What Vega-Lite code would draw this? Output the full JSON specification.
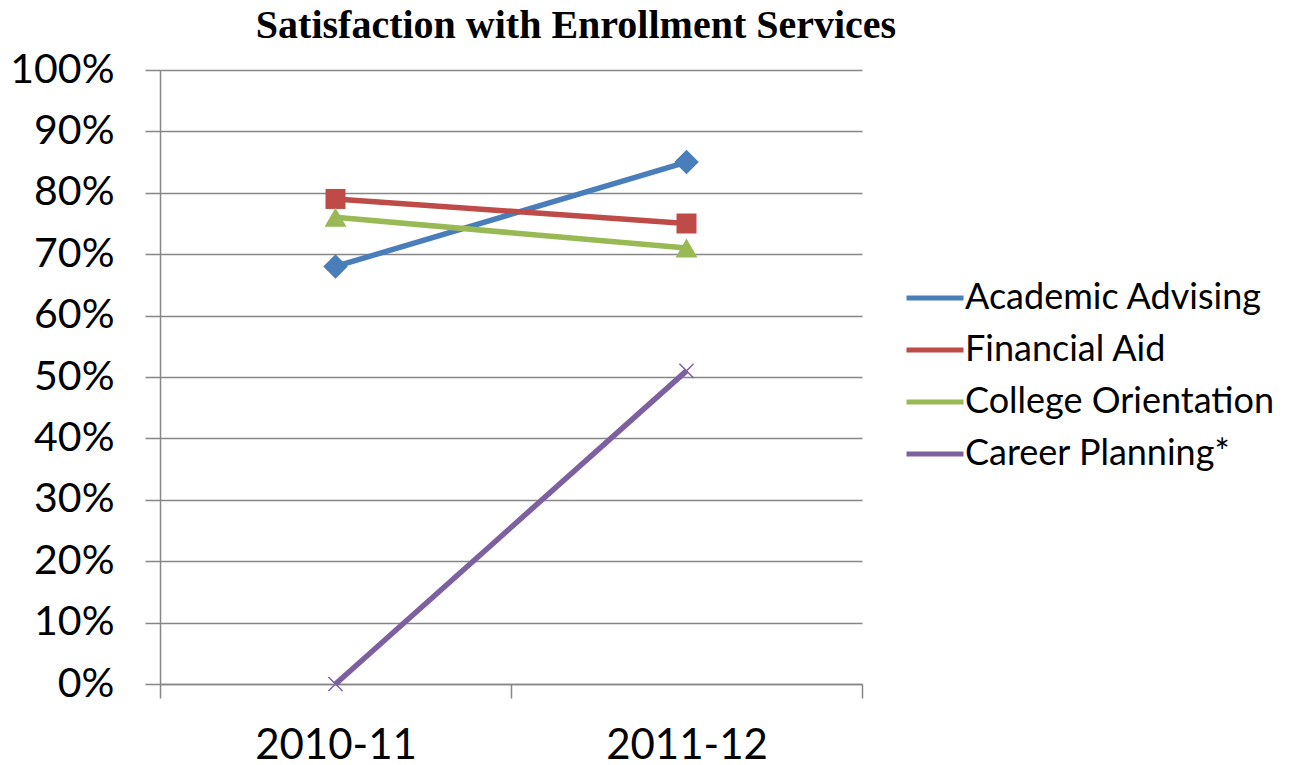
{
  "$schema": "https://vega.github.io/schema/vega-lite/v6.json",
  "autosize": "none",
  "width": 702,
  "height": 614,
  "padding": {"left": 160, "top": 70, "right": 441, "bottom": 81},
  "background": "white",
  "title": {
    "text": "Satisfaction with Enrollment Services",
    "font": "Liberation Serif",
    "fontWeight": "bold",
    "fontSize": 40,
    "color": "black",
    "anchor": "middle",
    "dx": 65,
    "baseline": "alphabetic",
    "offset": -29
  },
  "config": {
    "view": {"stroke": null},
    "axis": {"labelFont": "Lato", "labelColor": "black", "domainColor": "#868686", "tickColor": "#868686", "gridColor": "#868686", "domainWidth": 1.5, "tickWidth": 1.5, "gridWidth": 1.5}
  },
  "data": {
    "values": [
      {"year": "2010-11", "series": "Academic Advising", "value": 0.68},
      {"year": "2011-12", "series": "Academic Advising", "value": 0.85},
      {"year": "2010-11", "series": "Financial Aid", "value": 0.79},
      {"year": "2011-12", "series": "Financial Aid", "value": 0.75},
      {"year": "2010-11", "series": "College Orientation", "value": 0.76},
      {"year": "2011-12", "series": "College Orientation", "value": 0.71},
      {"year": "2010-11", "series": "Career Planning*", "value": 0.0},
      {"year": "2011-12", "series": "Career Planning*", "value": 0.51}
    ]
  },
  "encoding": {
    "x": {
      "field": "year", "type": "ordinal", "bandPosition": 0.5,
      "scale": {"type": "band", "paddingInner": 0, "paddingOuter": 0},
      "axis": {"title": null, "labelAngle": 0, "labelFontSize": 42, "tickBand": "extent", "tickSize": 14, "labelPadding": 27, "grid": false}
    },
    "y": {
      "field": "value", "type": "quantitative",
      "scale": {"domain": [0, 1], "nice": false},
      "axis": {"title": null, "format": ".0%", "values": [0, 0.1, 0.2, 0.3, 0.4, 0.5, 0.6, 0.7, 0.8, 0.9, 1.0], "labelFontSize": 41, "tickSize": 15, "labelPadding": 31, "grid": true}
    },
    "color": {
      "field": "series", "type": "nominal",
      "scale": {"domain": ["Academic Advising", "Financial Aid", "College Orientation", "Career Planning*"], "range": ["#4A7EBB", "#BE4B48", "#98B954", "#7D60A0"]},
      "legend": {
        "title": null,
        "orient": "none",
        "legendX": 760,
        "legendY": 210,
        "symbolType": "M-2.1,0L1.7,0",
        "symbolSize": 900,
        "symbolStrokeWidth": 5,
        "labelFont": "Lato",
        "labelFontSize": 36,
        "labelLimit": 500,
        "labelColor": "black",
        "labelOffset": 9,
        "rowPadding": 16
      }
    }
  },
  "layer": [
    {
      "mark": {"type": "line", "strokeWidth": 5.5},
      "encoding": {"order": {"field": "year"}}
    },
    {
      "transform": [{"filter": "datum.series === 'Academic Advising'"}],
      "mark": {"type": "point", "shape": "diamond", "filled": true, "size": 600, "opacity": 1}
    },
    {
      "transform": [{"filter": "datum.series === 'Financial Aid'"}],
      "mark": {"type": "point", "shape": "square", "filled": true, "size": 400, "opacity": 1}
    },
    {
      "transform": [{"filter": "datum.series === 'College Orientation'"}],
      "mark": {"type": "point", "shape": "triangle-up", "filled": true, "size": 480, "opacity": 1}
    },
    {
      "transform": [{"filter": "datum.series === 'Career Planning*'"}],
      "mark": {"type": "point", "shape": "M-1,-1L1,1M-1,1L1,-1", "filled": false, "strokeWidth": 1.5, "size": 200, "opacity": 1}
    }
  ]
}
